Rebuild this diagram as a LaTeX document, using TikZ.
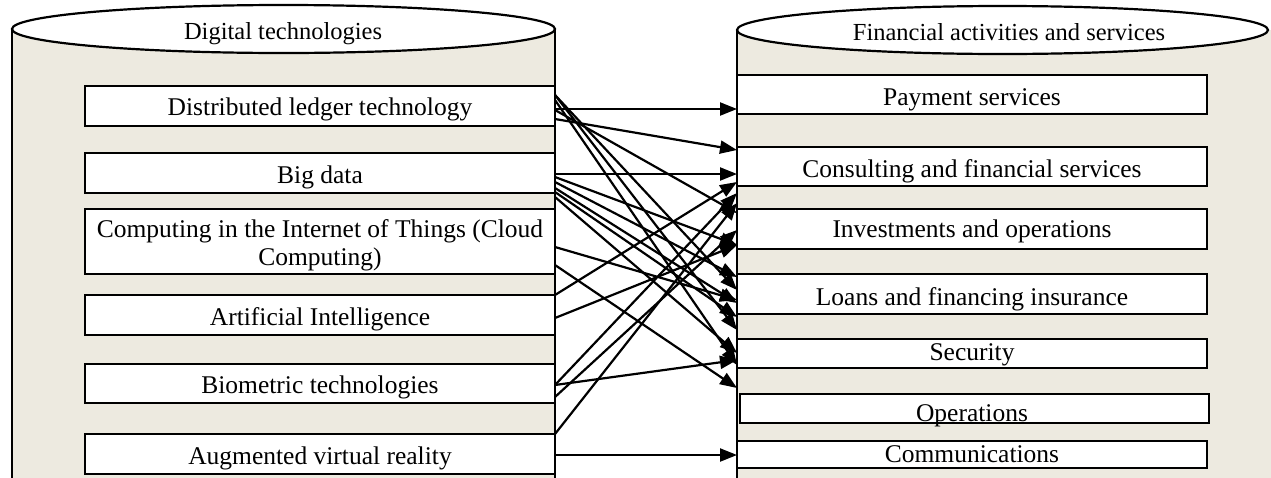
\documentclass[tikz,border=0pt]{standalone}
\usepackage{fontspec}
\setmainfont{Liberation Serif}
\usetikzlibrary{arrows.meta}
\definecolor{drum}{RGB}{237,234,224}
% one connector: source box, drop below its top edge, target box, drop below its top edge
\newcommand{\link}[4]{\draw[conn] ([yshift=-#2pt]#1.north east) -- ([yshift=-#4pt]#3.north west);}
\begin{document}
\begin{tikzpicture}[x=1pt,y=-1pt,
  box/.style={draw=black,fill=white,line width=2.2pt,inner sep=0pt,outer sep=0pt,anchor=north west},
  lbl/.style={font=\fontsize{25.5}{29}\selectfont,anchor=base,inner sep=0pt,align=center},
  head/.style={font=\fontsize{24.5}{28}\selectfont,anchor=base,inner sep=0pt},
  conn/.style={line width=2.2pt,-{Triangle[length=17pt,width=13pt]}},
  drumline/.style={line width=2.2pt}]
\useasboundingbox (0,0) rectangle (1271,477);
\clip (0,0) rectangle (1271,477);

% left drum: digital technologies
\fill[drum] (12,29) rectangle (555,500);
\draw[drumline] (12,500) -- (12,29);
\draw[drumline] (555,500) -- (555,29);
\draw[drumline,fill=white] (283.5,29) ellipse [x radius=271.5pt, y radius=24pt];
\node[head] (hleft) at (283,39) {Digital technologies};

% right drum: financial activities and services
\fill[drum] (737,30) rectangle (1290,500);
\draw[drumline] (737,500) -- (737,30);
\draw[drumline,fill=white] (1002.5,30) ellipse [x radius=265.5pt, y radius=24pt];
\node[head] (hright) at (1009,40) {Financial activities and services};

% technology boxes
\node[box,minimum width=470pt,minimum height=40pt] (dlt) at (85,86) {};
\node[box,minimum width=470pt,minimum height=40pt] (big) at (85,153) {};
\node[box,minimum width=470pt,minimum height=65pt] (cmp) at (85,209) {};
\node[box,minimum width=470pt,minimum height=40pt] (ai)  at (85,295) {};
\node[box,minimum width=470pt,minimum height=39pt] (bio) at (85,364) {};
\node[box,minimum width=470pt,minimum height=40pt] (avr) at (85,434) {};

\node[lbl] (tdlt) at (320,115) {Distributed ledger technology};
\node[lbl] (tbig) at (320,183) {Big data};
\node[lbl] (tcmp1) at (320,237) {Computing in the Internet of Things (Cloud};
\node[lbl] (tcmp2) at (320,265) {Computing)};
\node[lbl] (tai)  at (320,325) {Artificial Intelligence};
\node[lbl] (tbio) at (320,393) {Biometric technologies};
\node[lbl] (tavr) at (320,464) {Augmented virtual reality};

% service boxes
\node[box,minimum width=470pt,minimum height=39pt] (pay) at (737,75) {};
\node[box,minimum width=470pt,minimum height=39pt] (con) at (737,147) {};
\node[box,minimum width=470pt,minimum height=40pt] (inv) at (737,209) {};
\node[box,minimum width=470pt,minimum height=40pt] (loa) at (737,274) {};
\node[box,minimum width=470pt,minimum height=29pt] (sec) at (737,339) {};
\node[box,minimum width=469pt,minimum height=29pt] (ops) at (740,394) {};
\node[box,minimum width=470pt,minimum height=27pt] (com) at (737,441) {};

\node[lbl] (tpay) at (972,105) {Payment services};
\node[lbl] (tcon) at (972,177) {Consulting and financial services};
\node[lbl] (tinv) at (972,237) {Investments and operations};
\node[lbl] (tloa) at (972,305) {Loans and financing insurance};
\node[lbl] (tsec) at (972,360) {Security};
\node[lbl] (tops) at (972,421) {Operations};
\node[lbl] (tcom) at (972,462) {Communications};

% connectors
\link{dlt}{23}{pay}{34}
\link{dlt}{33}{con}{3}
\link{dlt}{24}{inv}{4}
\link{dlt}{9}{loa}{16}
\link{dlt}{9}{loa}{56}
\link{dlt}{14}{sec}{26}
\link{big}{21}{con}{27}
\link{big}{24}{inv}{36}
\link{big}{29}{loa}{3}
\link{big}{35}{loa}{29}
\link{big}{39}{loa}{43}
\link{big}{44}{sec}{14}
\link{cmp}{38}{loa}{26}
\link{cmp}{56}{sec}{49}
\link{ai}{0}{con}{35}
\link{ai}{23}{inv}{36}
\link{bio}{21}{sec}{21}
\link{bio}{21}{con}{46}
\link{bio}{33}{inv}{21}
\link{avr}{0}{con}{56}
\link{avr}{21}{com}{14}
\end{tikzpicture}
\end{document}
